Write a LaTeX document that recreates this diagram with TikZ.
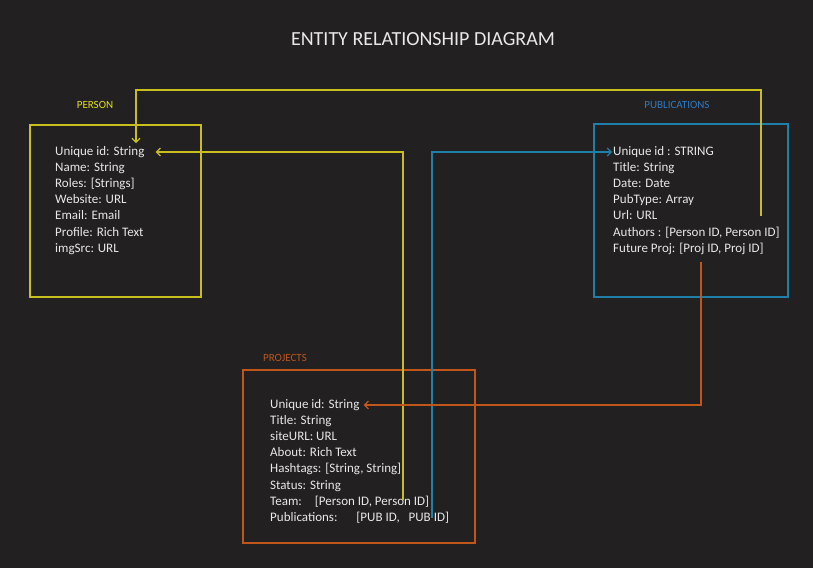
\documentclass[tikz,border=0pt]{standalone}
\usepackage{fontspec}
\setmainfont{Carlito}
\usetikzlibrary{arrows.meta}

\definecolor{bgdark}{HTML}{222020}
\definecolor{fieldtext}{HTML}{E8E8E8}
\definecolor{perline}{HTML}{C8BE1E}
\definecolor{perlabel}{HTML}{E2E010}
\definecolor{publine}{HTML}{1E7FA8}
\definecolor{publabel}{HTML}{2E7AC2}
\definecolor{proline}{HTML}{C0561A}
\definecolor{prolabel}{HTML}{BA561E}

\tikzset{
  field/.style={anchor=base west,inner sep=0pt,text=fieldtext,
    font=\fontsize{13}{15}\selectfont,text height=9pt,text depth=3pt},
  tablelabel/.style={inner sep=0pt,font=\fontsize{11}{13}\selectfont},
  link/.style={line width=1.2pt,-{Straight Barb[length=4pt,width=8pt]}}
}

\begin{document}
\begin{tikzpicture}[x=1pt,y=-1pt]
  \fill[bgdark] (0,0) rectangle (813,568);
  \useasboundingbox (0,0) rectangle (813,568);

  \node[text=fieldtext,font=\fontsize{20}{24}\selectfont] (title) at (423,39) {ENTITY RELATIONSHIP DIAGRAM};

  % person
  \node[tablelabel,text=perlabel] (personlabel) at (95,105) {PERSON};
  \draw[perline,line width=1.5pt] (30,125) rectangle (201,297);
  \foreach \f [count=\i] in {Unique id: String, Name: String, {Roles: [Strings]},
      Website: URL, Email: Email, Profile: Rich Text, imgSrc: URL}
    \node[field] (person-\i) at (55,155+16.2*\i-16.2) {\f};

  % publications
  \node[tablelabel,text=publabel] (publabel) at (677,105) {PUBLICATIONS};
  \draw[publine,line width=1.5pt] (594,124) rectangle (788,297);
  \foreach \f [count=\i] in {Unique id : STRING, Title: String, Date: Date,
      PubType: Array, Url: URL, {Authors : [Person ID, Person ID]},
      {Future Proj: [Proj ID, Proj ID]}}
    \node[field] (pub-\i) at (613,155+16.2*\i-16.2) {\f};

  % projects
  \node[tablelabel,text=prolabel] (projlabel) at (285,358) {PROJECTS};
  \draw[proline,line width=1.5pt] (243,370) rectangle (475,543);
  \foreach \f [count=\i] in {Unique id: String, Title: String, siteURL: URL,
      About: Rich Text, {Hashtags: [String, String]}, Status: String,
      {Team:\hspace{13pt}[Person ID, Person ID]},
      {Publications:\hspace{19pt}[PUB ID,\hspace{6pt} PUB ID]}}
    \node[field] (proj-\i) at (270,408+16.2*\i-16.2) {\f};

  % connectors
  \coordinate (authorsout) at (761,216);
  \coordinate (personin) at (136,143);
  \coordinate (teamout) at (403,500);
  \coordinate (pubsout) at (432,518);
  \coordinate (futureout) at (701,262);

  \draw[link,perline] (authorsout) -- (authorsout |- 0,90) -| (personin);
  \draw[link,perline] (teamout) |- ([xshift=11pt]person-1.east);
  \draw[link,publine] (pubsout) |- ([xshift=-1pt]pub-1.west);
  \draw[link,proline] (futureout) |- ([xshift=4pt]proj-1.east);
\end{tikzpicture}
\end{document}
